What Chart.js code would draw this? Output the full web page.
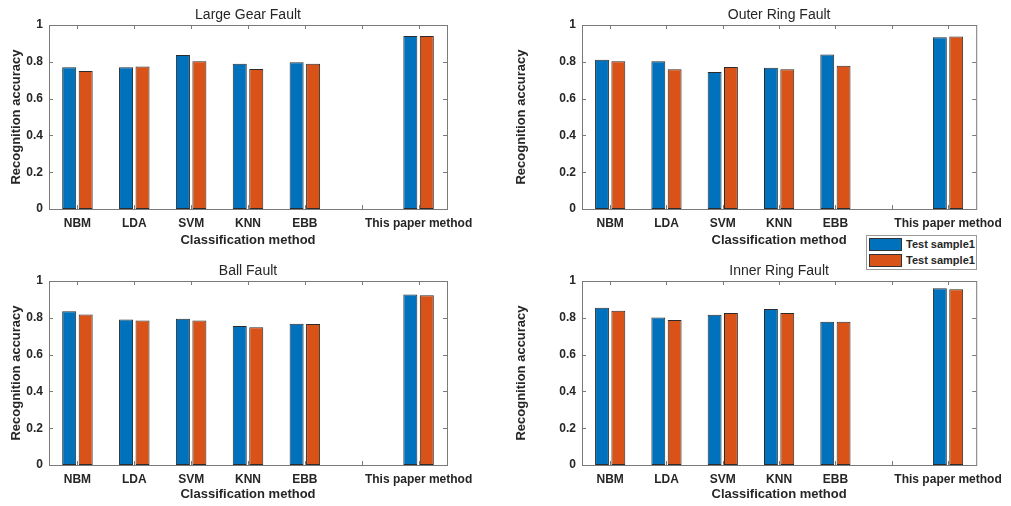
<!DOCTYPE html>
<html>
<head>
<meta charset="utf-8">
<script src="https://cdn.jsdelivr.net/npm/chart.js@4"></script>
<style>
  html, body { margin: 0; padding: 0; background: #fff; }
  #wrap { position: relative; width: 1011px; height: 506px; background: #fff; overflow: hidden; }
  #wrap canvas { position: absolute; }
  #legend {
    position: absolute; left: 866px; top: 235px; width: 111px; height: 35px;
    background: #fff; border: 1px solid #9a9a9a; box-sizing: border-box;
    font: bold 11px 'Liberation Sans', Arial, sans-serif; color: #262626;
  }
  .legend-item { position: absolute; left: 2px; height: 13px; line-height: 13px; white-space: nowrap; }
  .legend-box { display: inline-block; width: 31px; height: 11px; border: 1px solid #333; vertical-align: top; margin-right: 4px; }
</style>
</head>
<body>
<div id="wrap">
  <canvas id="c1"></canvas>
  <canvas id="c2"></canvas>
  <canvas id="c3"></canvas>
  <canvas id="c4"></canvas>
  <div id="legend"></div>
</div>
<script>
// ── Data ─────────────────────────────────────
const categories = ['NBM', 'LDA', 'SVM', 'KNN', 'EBB', '', 'This paper method'];
const yTicks = [0, 0.2, 0.4, 0.6, 0.8, 1];
const seriesNames = ['Test sample1', 'Test sample1'];
const seriesColors = ['#0072BD', '#D95319'];

// blank slot (6th) has no bars
const gearSample1  = [0.770, 0.770, 0.837, 0.790, 0.797, null, 0.940];
const gearSample2  = [0.750, 0.775, 0.803, 0.761, 0.790, null, 0.940];
const outerSample1 = [0.811, 0.803, 0.745, 0.768, 0.839, null, 0.933];
const outerSample2 = [0.803, 0.759, 0.772, 0.759, 0.779, null, 0.937];
const ballSample1  = [0.835, 0.791, 0.795, 0.755, 0.768, null, 0.926];
const ballSample2  = [0.818, 0.786, 0.786, 0.748, 0.766, null, 0.922];
const innerSample1 = [0.855, 0.802, 0.817, 0.848, 0.779, null, 0.960];
const innerSample2 = [0.838, 0.788, 0.826, 0.826, 0.779, null, 0.955];

// ── Panel layout (page px): cell = canvas box, area = axes box ──
const panels = [
  { id: 'c1', title: 'Large Gear Fault',  s1: gearSample1,  s2: gearSample2,  cell: [0, 0, 505, 253],     area: [49, 25, 447, 209],   xPad: 5 },
  { id: 'c2', title: 'Outer Ring Fault',  s1: outerSample1, s2: outerSample2, cell: [505, 0, 1011, 253],  area: [582, 25, 979, 209],  xPad: 5 },
  { id: 'c3', title: 'Ball Fault',        s1: ballSample1,  s2: ballSample2,  cell: [0, 253, 505, 506],   area: [49, 281, 447, 465],  xPad: 4 },
  { id: 'c4', title: 'Inner Ring Fault',  s1: innerSample1, s2: innerSample2, cell: [505, 253, 1011, 506], area: [582, 281, 979, 465], xPad: 4 },
];

const FONT = "'Liberation Sans', Arial, sans-serif";
const TEXT = '#262626';
const AXIS = '#7a7a7a';

// box, inward ticks and title, MATLAB style
const matlabAxes = {
  id: 'matlabAxes',
  afterDatasetsDraw(chart, args, opts) {
    const { ctx, chartArea: a, scales: { x, y } } = chart;
    const tl = 4;
    ctx.save();
    ctx.strokeStyle = AXIS;
    ctx.lineWidth = 1;
    ctx.beginPath();
    for (let i = 0; i < categories.length; i++) {
      const px = Math.round(x.getPixelForTick(i)) + 0.5;
      ctx.moveTo(px, a.bottom); ctx.lineTo(px, a.bottom - tl);
      ctx.moveTo(px, a.top);    ctx.lineTo(px, a.top + tl);
    }
    yTicks.forEach(v => {
      const py = Math.round(y.getPixelForValue(v)) + 0.5;
      ctx.moveTo(a.left, py);  ctx.lineTo(a.left + tl, py);
      ctx.moveTo(a.right, py); ctx.lineTo(a.right - tl, py);
    });
    ctx.stroke();
    ctx.strokeRect(a.left + 0.5, a.top + 0.5, a.right - a.left, a.bottom - a.top);

    ctx.fillStyle = TEXT;
    ctx.font = '14px ' + FONT;
    ctx.textAlign = 'center';
    ctx.textBaseline = 'middle';
    ctx.fillText(opts.text, (a.left + a.right) / 2, a.top - 10);
    ctx.restore();
  }
};

panels.forEach(p => {
  const [cl, ct, cr, cb] = p.cell;
  const [al, at, ar, ab] = p.area;
  const cv = document.getElementById(p.id);
  cv.width = cr - cl;
  cv.height = cb - ct;
  cv.style.left = cl + 'px';
  cv.style.top = ct + 'px';

  new Chart(cv, {
    type: 'bar',
    data: {
      labels: categories,
      datasets: [p.s1, p.s2].map((d, i) => ({
        label: seriesNames[i],
        data: d,
        backgroundColor: seriesColors[i],
        borderColor: '#2b2b2b',
        borderWidth: 1,
        borderSkipped: false,
        categoryPercentage: 0.58,
        barPercentage: 0.85,
      }))
    },
    options: {
      responsive: false,
      animation: false,
      devicePixelRatio: 1,
      layout: { padding: { left: 0, top: at - ct, right: cr - ar, bottom: 0 } },
      plugins: {
        legend: { display: false },
        tooltip: { enabled: false },
        matlabAxes: { text: p.title }
      },
      scales: {
        x: {
          offset: true,
          grid: { display: false, drawTicks: false },
          border: { display: false },
          ticks: { color: TEXT, font: { family: FONT, size: 12, weight: 'bold' }, padding: 7, autoSkip: false, maxRotation: 0 },
          title: { display: true, text: 'Classification method', color: TEXT,
                   font: { family: FONT, size: 13, weight: 'bold', lineHeight: 1.2 }, padding: { top: 0, bottom: p.xPad } },
          afterFit: s => { s.height = cb - ab; }
        },
        y: {
          min: 0, max: 1,
          grid: { display: false, drawTicks: false },
          border: { display: false },
          afterBuildTicks: s => { s.ticks = yTicks.map(v => ({ value: v })); },
          ticks: { color: TEXT, font: { family: FONT, size: 12, weight: 'bold' }, padding: 6,
                   callback: v => String(v) },
          title: { display: true, text: 'Recognition accuracy', color: TEXT,
                   font: { family: FONT, size: 13, weight: 'bold', lineHeight: 1.2 }, padding: { top: 9, bottom: 0 } },
          afterFit: s => { s.width = al - cl; }
        }
      }
    },
    plugins: [matlabAxes]
  });
});

// ── Legend (shared) ──────────────────────────
const legendEl = document.getElementById('legend');
seriesNames.forEach((n, i) => {
  legendEl.innerHTML += `
    <div class="legend-item" style="top:${2 + i * 16}px">
      <span class="legend-box" style="background:${seriesColors[i]}"></span>${n}
    </div>`;
});
</script>
</body>
</html>
